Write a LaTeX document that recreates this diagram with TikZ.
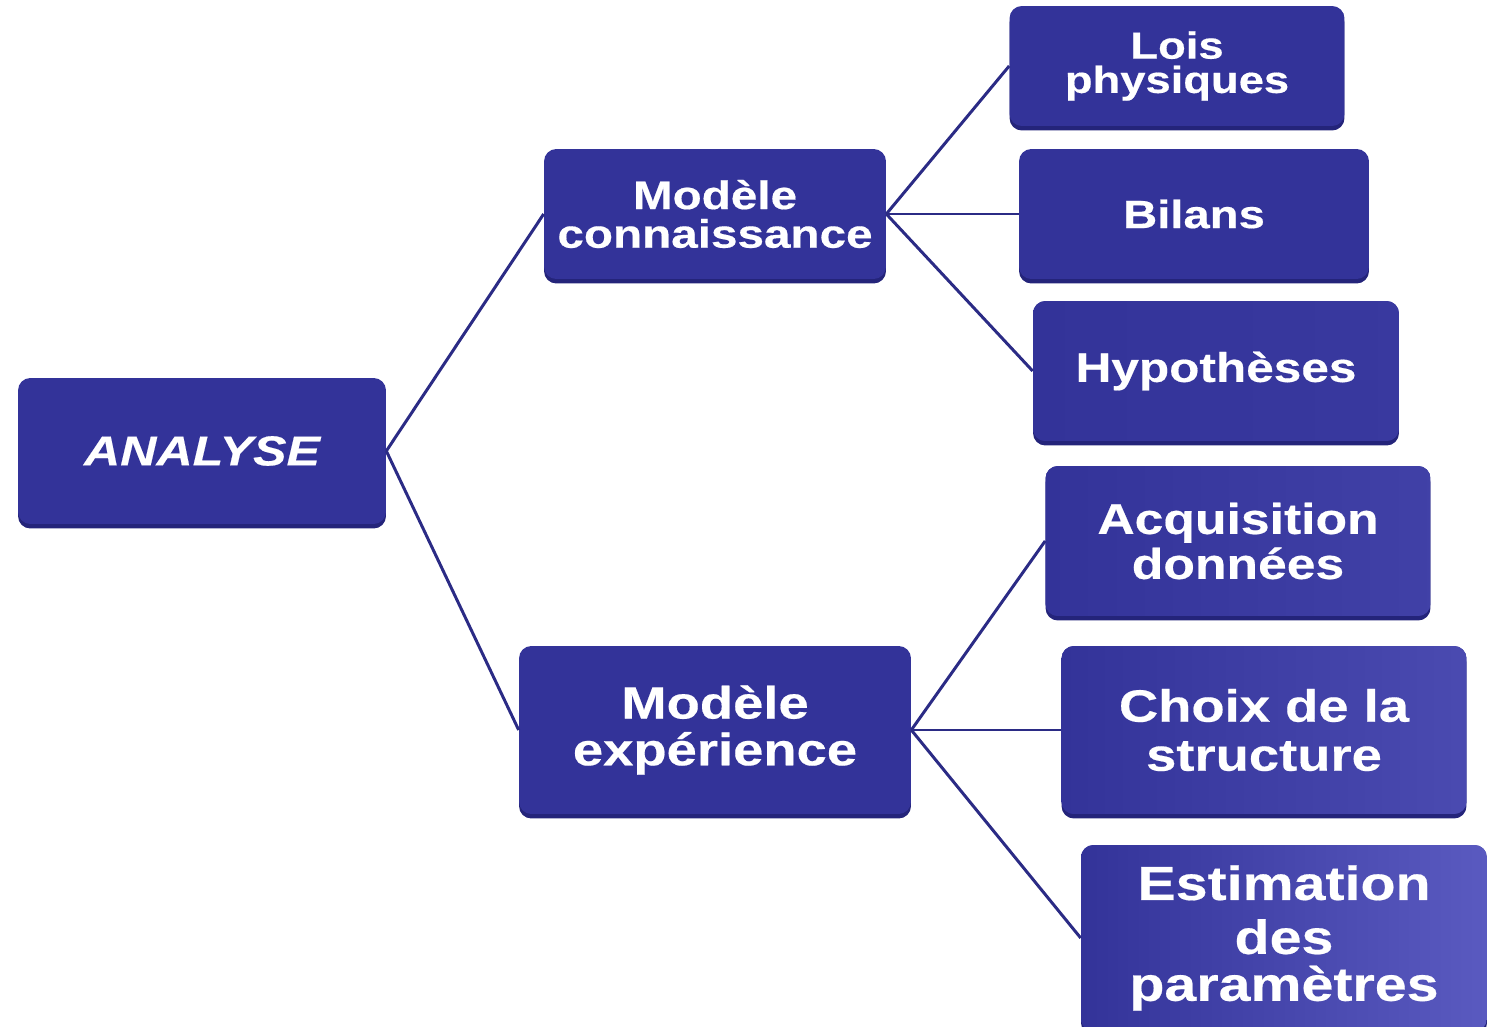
\documentclass[tikz,border=0pt]{standalone}
\usepackage{fontspec}
\setmainfont{Liberation Sans}
\newfontfamily\boxfont[FakeStretch=1.2, FakeBold=0.4]{Liberation Sans}
\usetikzlibrary{shadows}

\definecolor{boxblue}{HTML}{333399}
\definecolor{boxlight}{HTML}{5A5AC0}
\definecolor{boxrim}{HTML}{24247A}
\definecolor{linkblue}{HTML}{2B2B85}
\setlength{\lineskiplimit}{-50pt}

\begin{document}
\begin{tikzpicture} [x=0.02cm, y=-0.02cm,
  box/.style={rounded corners=7pt, fill=boxblue, text=white, align=center, inner sep=0pt,
    drop shadow={shadow xshift=0pt, shadow yshift=-0.09cm, fill=boxrim, opacity=1}},
  shadebox/.style={box, left color=boxblue, right color=#1},
  link/.style={draw=linkblue, line width=1.7pt}]

\useasboundingbox (0,0) rectangle (1488,1027);

% root
\node[box, minimum width=7.36cm, minimum height=2.92cm,
  font=\boxfont\fontsize{23.8}{23.8}\selectfont\bfseries\itshape] (analyse) at (202,451) {ANALYSE};

% two models
\node[box, minimum width=6.84cm, minimum height=2.6cm,
  font=\boxfont\fontsize{22.6}{22}\selectfont\bfseries] (mcon) at (715,214) {Modèle\\connaissance};
\node[box, minimum width=7.84cm, minimum height=3.36cm,
  font=\boxfont\fontsize{25.8}{26.6}\selectfont\bfseries] (mexp) at (715,730) {Modèle\\expérience};

% leaves
\node[box, minimum width=6.7cm, minimum height=2.4cm,
  font=\boxfont\fontsize{21.5}{19.5}\selectfont\bfseries] (lois) at (1177,66) {Lois\\physiques};
\node[box, minimum width=7cm, minimum height=2.6cm,
  font=\boxfont\fontsize{22.4}{22.4}\selectfont\bfseries] (bilans) at (1194,214) {Bilans};
\node[shadebox=boxblue!85!boxlight, minimum width=7.32cm, minimum height=2.8cm,
  font=\boxfont\fontsize{23.5}{23.5}\selectfont\bfseries] (hyp) at (1216,371) {Hypothèses};
\node[shadebox=boxblue!65!boxlight, minimum width=7.7cm, minimum height=3cm,
  font=\boxfont\fontsize{24.5}{25.6}\selectfont\bfseries] (acq) at (1238,541) {Acquisition\\données};
\node[shadebox=boxblue!40!boxlight, minimum width=8.1cm, minimum height=3.36cm,
  font=\boxfont\fontsize{25.8}{27.9}\selectfont\bfseries] (choix) at (1264,730) {Choix de la\\structure};
\node[shadebox=boxlight, minimum width=8.12cm, minimum height=3.72cm,
  font=\boxfont\fontsize{27.2}{26.7}\selectfont\bfseries] (estim) at (1284,938) {Estimation\\[4pt]des\\paramètres};

% links
\draw[link] (analyse.east) -- (mcon.west);
\draw[link] (analyse.east) -- (mexp.west);
\foreach \n in {lois,bilans,hyp} {
 \draw[link] (mcon.east) -- (\n.west);
};
\foreach \n in {acq,choix,estim} {
 \draw[link] (mexp.east) -- (\n.west);
};

\end{tikzpicture}
\end{document}
